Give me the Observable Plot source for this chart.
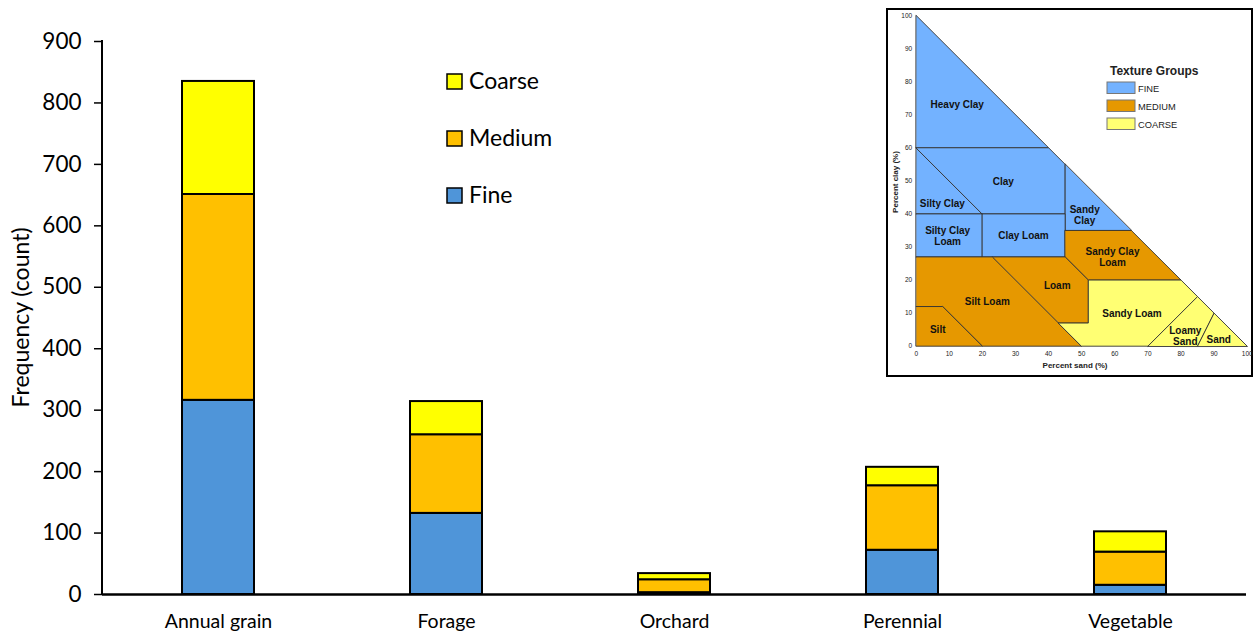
<!DOCTYPE html>
<html>
<head>
<meta charset="utf-8">
<script src="https://cdn.jsdelivr.net/npm/d3@7"></script>
<script src="https://cdn.jsdelivr.net/npm/@observablehq/plot@0.6"></script>
<style>
  body { margin: 0; background: #fff; }
  #wrap { position: relative; width: 1254px; height: 636px; overflow: hidden; background: #fff; }
  #wrap > svg { position: absolute; left: 0; top: 0; }
  #inset { position: absolute; left: 886px; top: 8px; width: 367px; height: 369px; box-sizing: border-box;
           border: 2px solid #000; background: #fff; }
  #inset svg { position: absolute; left: 0; top: 0; }
</style>
</head>
<body>
<div id="wrap"></div>
<script>
// ---------- main chart data ----------
const categories = ["Annual grain", "Forage", "Orchard", "Perennial", "Vegetable"];
const groups = ["Fine", "Medium", "Coarse"];
const fine   = [316, 132, 3, 72, 15];
const medium = [335, 128, 21, 105, 54];
const coarse = [184, 54, 10, 30, 33];
const yTicks = [0, 100, 200, 300, 400, 500, 600, 700, 800, 900];
const groupColors = ["#4F95D9", "#FFC000", "#FFFF00"];
const legendOrder = ["Coarse", "Medium", "Fine"];
const yTitle = "Frequency (count)";

// ---------- inset (soil texture triangle) data ----------
const textureGroups = ["FINE", "MEDIUM", "COARSE"];
const textureColors = ["#73B2FF", "#E69800", "#FFFF73"];
const regionNames  = ["Heavy Clay", "Silty Clay", "Clay", "Sandy Clay", "Silty Clay Loam", "Clay Loam",
                      "Sandy Clay Loam", "Loam", "Silt Loam", "Silt", "Sandy Loam", "Loamy Sand", "Sand"];
const regionGroups = ["FINE", "FINE", "FINE", "FINE", "FINE", "FINE",
                      "MEDIUM", "MEDIUM", "MEDIUM", "MEDIUM", "COARSE", "COARSE", "COARSE"];
// vertices as [sand %, clay %]
const regionPolys = [
  [[0,60],[40,60],[0,100]],
  [[0,60],[20,40],[0,40]],
  [[0,60],[40,60],[45,55],[45,40],[20,40]],
  [[45,55],[45,35],[65,35]],
  [[0,40],[20,40],[20,27],[0,27]],
  [[20,40],[45,40],[45,27],[20,27]],
  [[45,35],[65,35],[80,20],[52,20],[45,27]],
  [[23,27],[45,27],[52,20],[52,7],[43,7]],
  [[0,27],[23,27],[50,0],[20,0],[8,12],[0,12]],
  [[0,12],[8,12],[20,0],[0,0]],
  [[43,7],[52,7],[52,20],[80,20],[85,15],[70,0],[50,0]],
  [[70,0],[85,15],[90,10],[85,0]],
  [[85,0],[90,10],[100,0]]
];
const labelTexts = ["Heavy Clay", "Clay", "Silty Clay", "Sandy\nClay", "Silty Clay\nLoam", "Clay Loam",
                    "Sandy Clay\nLoam", "Loam", "Silt Loam", "Silt", "Sandy Loam", "Loamy\nSand", "Sand"];
const labelSand = [12.4, 26.3, 7.9, 50.9, 9.5, 32.4, 59.3, 42.6, 21.5, 6.5, 65.2, 81.3, 91.4];
const labelClay = [73.2, 49.9, 43.1, 39.7, 33.3, 33.5, 27.0, 18.3, 13.5, 5.2, 10.0, 3.2, 2.2];
const pctTicks = [0, 10, 20, 30, 40, 50, 60, 70, 80, 90, 100];

// ---------- main chart ----------
const rows = categories.flatMap((c, i) =>
  groups.map((g, j) => ({category: c, group: g, value: [fine, medium, coarse][j][i]})));

const W = 1254, H = 636, ML = 102, MR = 8, MT = 41, MB = 42;
const main = Plot.plot({
  width: W, height: H,
  marginLeft: ML, marginRight: MR, marginTop: MT, marginBottom: MB,
  style: {fontFamily: "Lato, sans-serif", color: "#000", background: "white", overflow: "visible"},
  x: {domain: categories, paddingInner: 0.685, paddingOuter: 0.3425, label: null},
  y: {domain: [0, 900], label: null},
  color: {domain: groups, range: groupColors},
  marks: [
    Plot.barY(rows, {x: "category", y: "value", fill: "group", stroke: "#000", strokeWidth: 2}),
    Plot.ruleY([0], {stroke: "#000", strokeWidth: 2.5}),
    Plot.axisY({ticks: yTicks, tickSize: 8, tickPadding: 13, fontSize: 22.5, label: null, strokeWidth: 1.5}),
    Plot.axisX({tickSize: 0, tickPadding: 20, fontSize: 19.5, label: null})
  ]
});
const wrap = document.getElementById("wrap");
wrap.appendChild(main);

// overlay: y axis line, y title, legend
const ys = main.scale("y");
const ov = d3.select(wrap).append("svg").attr("width", W).attr("height", H)
  .style("pointer-events", "none").style("font-family", "Lato, sans-serif");
ov.append("line").attr("x1", ML).attr("x2", ML)
  .attr("y1", ys.apply(900) - 1).attr("y2", ys.apply(0))
  .attr("stroke", "#000").attr("stroke-width", 2);
ov.append("text").attr("transform", `translate(29,${(ys.apply(0) + ys.apply(900)) / 2}) rotate(-90)`)
  .attr("text-anchor", "middle").attr("font-size", 23).attr("fill", "#000").text(yTitle);
legendOrder.forEach((g, i) => {
  const y0 = 74 + i * 57;
  ov.append("rect").attr("x", 447).attr("y", y0).attr("width", 15).attr("height", 15)
    .attr("fill", groupColors[groups.indexOf(g)]).attr("stroke", "#000").attr("stroke-width", 1.5);
  ov.append("text").attr("x", 469).attr("y", y0 + 14.5).attr("font-size", 23).attr("fill", "#000").text(g);
});

// ---------- inset ----------
const polyPts = regionPolys.flatMap((pts, i) =>
  pts.map(([s, c]) => ({name: regionNames[i], group: regionGroups[i], sand: s, clay: c})));
const labels = labelTexts.map((t, i) => ({text: t, sand: labelSand[i], clay: labelClay[i]}));

const IW = 363, IH = 365;
const inset = Plot.plot({
  width: IW, height: IH,
  marginLeft: 27.7, marginRight: 4.3, marginTop: 5, marginBottom: 29.3,
  style: {fontFamily: "'Liberation Sans', Arial, sans-serif", color: "#222", background: "white", overflow: "visible"},
  x: {domain: [0, 100], label: null},
  y: {domain: [0, 100], label: null},
  color: {domain: textureGroups, range: textureColors},
  marks: [
    Plot.line(polyPts, {x: "sand", y: "clay", z: "name", fill: "group", stroke: "#333",
                        strokeWidth: 0.9, curve: "linear-closed"}),
    Plot.text(labels, {x: "sand", y: "clay", text: "text", fontWeight: "bold", fontSize: 10,
                       lineHeight: 1.15, fill: "#111"}),
    Plot.axisX({ticks: pctTicks, tickSize: 0, tickPadding: 5, fontSize: 6.5, label: null}),
    Plot.axisY({ticks: pctTicks, tickSize: 0, tickPadding: 4, fontSize: 6.5, label: null})
  ]
});
const insetDiv = d3.select(wrap).append("div").attr("id", "inset");
insetDiv.node().appendChild(inset);

const io = insetDiv.append("svg").attr("width", IW).attr("height", IH)
  .style("font-family", "'Liberation Sans', Arial, sans-serif");
io.append("text").attr("x", 187).attr("y", 358).attr("text-anchor", "middle")
  .attr("font-size", 8).attr("font-weight", "bold").attr("fill", "#222").text("Percent sand (%)");
io.append("text").attr("transform", "translate(10,172) rotate(-90)").attr("text-anchor", "middle")
  .attr("font-size", 8).attr("font-weight", "bold").attr("fill", "#222").text("Percent clay (%)");
io.append("text").attr("x", 222).attr("y", 64.5).attr("font-size", 12).attr("font-weight", "bold")
  .attr("fill", "#222").text("Texture Groups");
textureGroups.forEach((g, i) => {
  const y0 = 72 + i * 18;
  io.append("rect").attr("x", 219).attr("y", y0).attr("width", 28).attr("height", 11.5)
    .attr("fill", textureColors[i]).attr("stroke", "#777").attr("stroke-width", 1);
  io.append("text").attr("x", 250).attr("y", y0 + 9.5).attr("font-size", 9.3).attr("fill", "#222").text(g);
});
</script>
</body>
</html>
